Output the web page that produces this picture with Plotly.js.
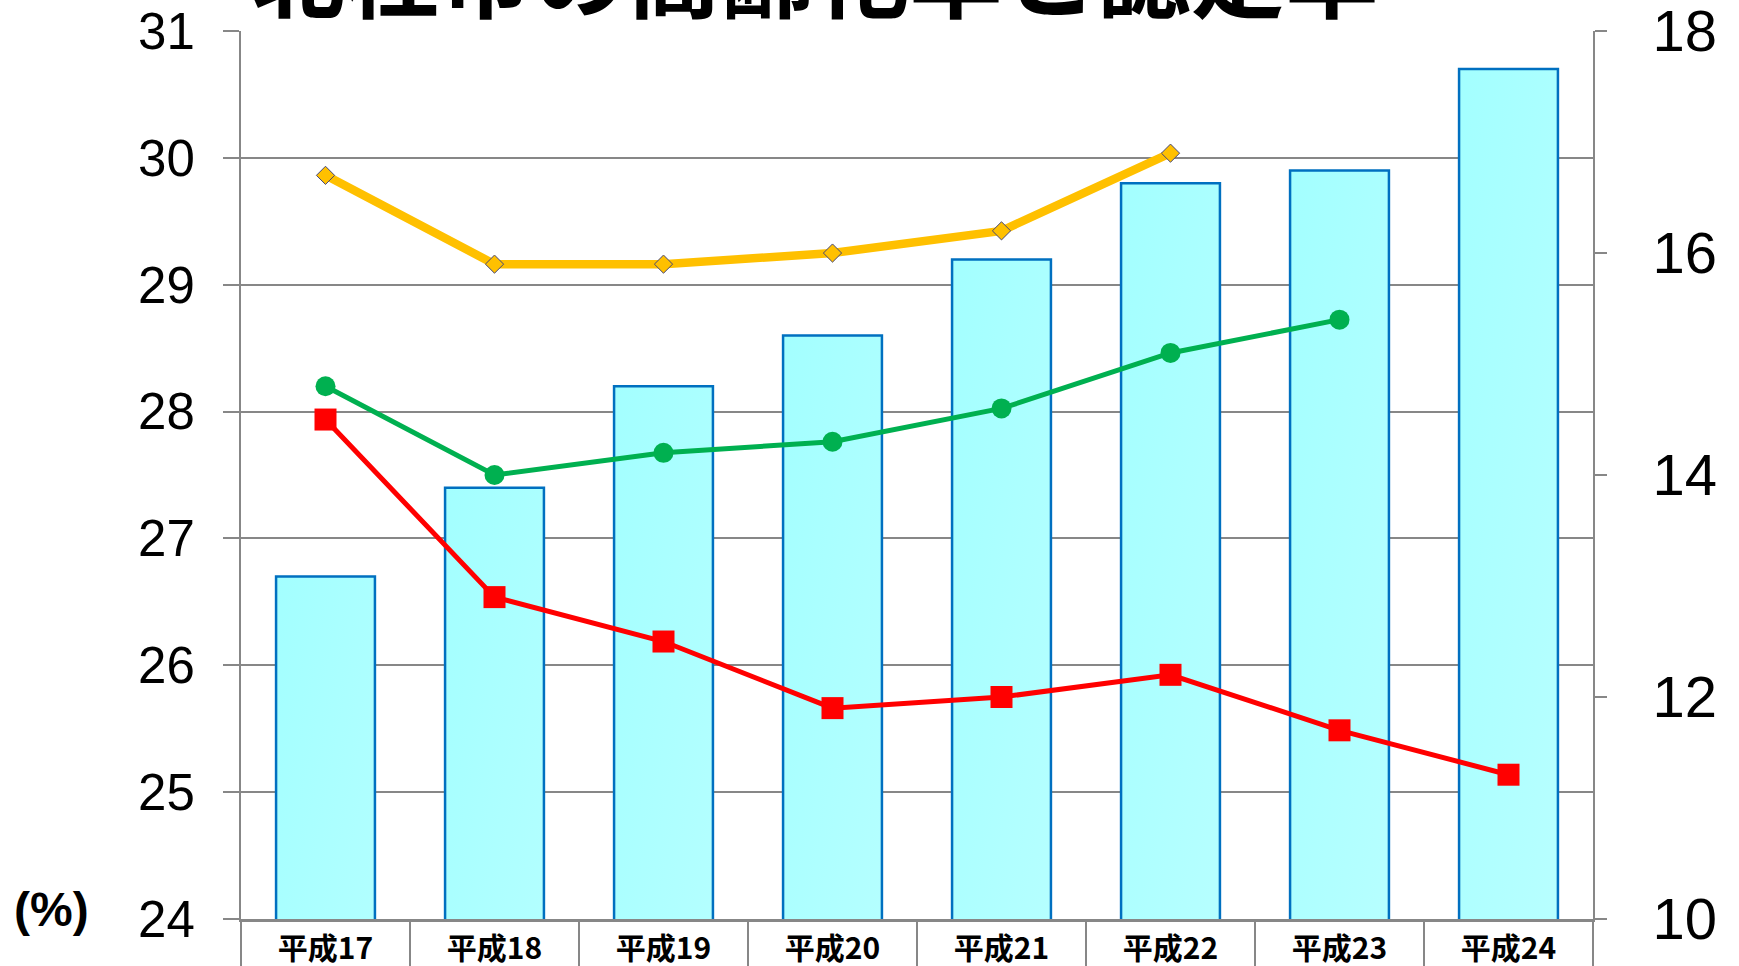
<!DOCTYPE html>
<html>
<head>
<meta charset="utf-8">
<script src="https://cdn.plot.ly/plotly-3.0.1.min.js"></script>
<style>
html,body{margin:0;padding:0;background:#fff;}
#chart{width:1739px;height:966px;}
#chart .barlayer .point path{fill:url(#barGrad) !important;}
</style>
</head>
<body>
<svg width="0" height="0" style="position:absolute">
  <defs>
    <linearGradient id="barGrad" x1="0" y1="0" x2="0.15" y2="1">
      <stop offset="0" stop-color="#a3ffff"/>
      <stop offset="1" stop-color="#dcffff"/>
    </linearGradient>
  </defs>
</svg>
<div id="chart"></div>
<script>
// ---- data ----
const categories = ['平成17','平成18','平成19','平成20','平成21','平成22','平成23','平成24'];
const agingRate = [26.7, 27.4, 28.2, 28.6, 29.2, 29.8, 29.9, 30.7];          // bars, left axis
const orangeRate = [16.7, 15.9, 15.9, 16.0, 16.2, 16.9, null, null];          // right axis
const greenRate  = [14.8, 14.0, 14.2, 14.3, 14.6, 15.1, 15.4, null];          // right axis
const redRate    = [14.5, 12.9, 12.5, 11.9, 12.0, 12.2, 11.7, 11.3];          // right axis
const leftTicks  = [24, 25, 26, 27, 28, 29, 30, 31];
const rightTicks = [10, 12, 14, 16, 18];
const titleText = '北杜市の高齢化率と認定率';
const unitText = '(%)';

const GRID = '#878787';

const traces = [
  {
    type: 'bar', x: categories, y: agingRate, yaxis: 'y',
    marker: {color: '#bdffff', line: {color: '#0070c0', width: 2.5}},
    hoverinfo: 'skip', showlegend: false
  },
  {
    type: 'scatter', mode: 'lines+markers', x: categories, y: orangeRate, yaxis: 'y2',
    line: {color: '#ffc000', width: 8.5},
    marker: {symbol: 'diamond', size: 14, color: '#ffc000', line: {color: '#44467a', width: 1}},
    connectgaps: false, showlegend: false, hoverinfo: 'skip'
  },
  {
    type: 'scatter', mode: 'lines+markers', x: categories, y: greenRate, yaxis: 'y2',
    line: {color: '#00b050', width: 5},
    marker: {symbol: 'circle', size: 20, color: '#00b050'},
    connectgaps: false, showlegend: false, hoverinfo: 'skip'
  },
  {
    type: 'scatter', mode: 'lines+markers', x: categories, y: redRate, yaxis: 'y2',
    line: {color: '#ff0000', width: 5},
    marker: {symbol: 'square', size: 22, color: '#ff0000'},
    connectgaps: false, showlegend: false, hoverinfo: 'skip'
  }
];

const dividers = [];
for (let k = 0; k <= categories.length; k++) {
  dividers.push({
    type: 'line', xref: 'paper', yref: 'paper',
    x0: k / categories.length, x1: k / categories.length,
    y0: 0, y1: -0.1,
    line: {color: GRID, width: 2}
  });
}

const layout = {
  width: 1739, height: 966,
  margin: {l: 241, r: 146, t: 31, b: 47, pad: 0},
  paper_bgcolor: '#ffffff', plot_bgcolor: '#ffffff',
  bargap: 0.415,
  showlegend: false,
  xaxis: {
    type: 'category', range: [-0.5, categories.length - 0.5],
    showgrid: false, zeroline: false,
    showline: true, linecolor: GRID, linewidth: 3,
    ticks: '', ticklabelstandoff: 1, ticklabeloverflow: 'allow',
    tickfont: {family: '"Noto Sans CJK JP", sans-serif', size: 30, color: '#000', weight: 'bold'},
    fixedrange: true
  },
  yaxis: {
    range: [24, 31.0005], tickvals: leftTicks, ticktext: leftTicks.map(String),
    showgrid: true, gridcolor: GRID, gridwidth: 2,
    zeroline: false, showline: true, linecolor: GRID, linewidth: 2,
    ticks: 'outside', ticklen: 16, tickwidth: 2, tickcolor: GRID,
    ticklabelstandoff: 18, ticklabeloverflow: 'allow',
    tickfont: {family: '"Liberation Sans", Arial, sans-serif', size: 51, color: '#000'},
    fixedrange: true
  },
  yaxis2: {
    overlaying: 'y', side: 'right',
    range: [10, 18.0006], tickvals: rightTicks, ticktext: rightTicks.map(String),
    showgrid: false, zeroline: false,
    showline: true, linecolor: GRID, linewidth: 2,
    ticks: 'outside', ticklen: 12, tickwidth: 2, tickcolor: GRID,
    ticklabelstandoff: 34, ticklabeloverflow: 'allow',
    tickfont: {family: '"Liberation Sans", Arial, sans-serif', size: 58, color: '#000'},
    fixedrange: true
  },
  shapes: dividers,
  annotations: [
    {
      text: titleText, xref: 'paper', yref: 'paper',
      x: 0.4244, y: 1.069, xanchor: 'center', yanchor: 'middle',
      showarrow: false,
      font: {family: '"Noto Sans CJK JP", sans-serif', size: 94, color: '#000', weight: 'bold'}
    },
    {
      text: unitText, xref: 'paper', yref: 'paper',
      x: -0.1404, y: 0.0107, xanchor: 'center', yanchor: 'middle',
      showarrow: false,
      font: {family: '"Liberation Sans", Arial, sans-serif', size: 48, color: '#000', weight: 'bold'}
    }
  ]
};

Plotly.newPlot('chart', traces, layout, {staticPlot: true, displayModeBar: false});
</script>
</body>
</html>
